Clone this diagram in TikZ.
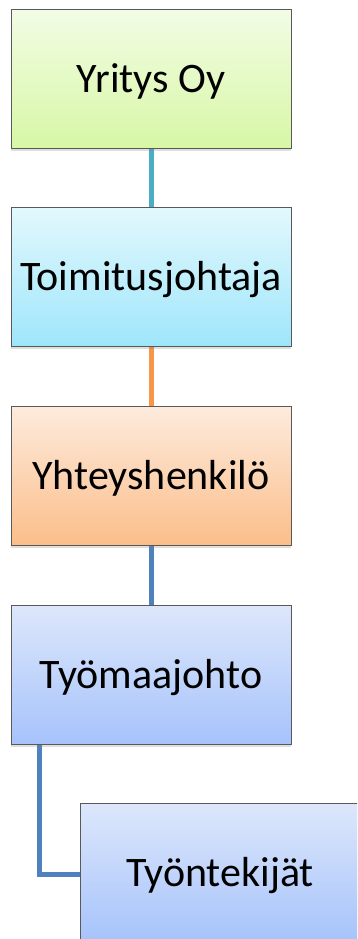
\documentclass[tikz,border=0pt]{standalone}
\usepackage{fontspec}
\setmainfont{Carlito}
\usetikzlibrary{shadows,backgrounds}
\definecolor{lnteal}{HTML}{4BACC6}
\definecolor{lnorange}{HTML}{F79646}
\definecolor{lnblue}{HTML}{4F81BD}
\tikzset{
  orgbox/.style={draw=black!65, line width=0.8pt, minimum width=280pt, minimum height=139pt,
    inner sep=0pt, font=\fontsize{42}{49}\selectfont, text=black, text height=27pt, text depth=0pt,
    drop shadow={opacity=0.25, shadow xshift=0pt, shadow yshift=-2.5pt}},
  greenbox/.style={orgbox, top color={rgb,255:red,242;green,252;blue,229}, bottom color={rgb,255:red,215;green,247;blue,165}},
  cyanbox/.style={orgbox, top color={rgb,255:red,227;green,248;blue,253}, bottom color={rgb,255:red,158;green,230;blue,251}},
  peachbox/.style={orgbox, top color={rgb,255:red,253;green,235;blue,221}, bottom color={rgb,255:red,251;green,190;blue,138}},
  bluebox/.style={orgbox, top color={rgb,255:red,221;green,231;blue,251}, bottom color={rgb,255:red,166;green,195;blue,251}},
  link/.style={line width=5pt}
}
\begin{document}
\begin{tikzpicture}[x=1pt,y=1pt]
\useasboundingbox (0,0) rectangle (357,-939);
\clip (0,0) rectangle (357,-939);
\node[greenbox] (a) at (151,-79) {Yritys Oy};
\node[cyanbox] (b) at (151,-277) {Toimitusjohtaja};
\node[peachbox] (c) at (151,-475.5) {Yhteyshenkilö};
\node[bluebox] (d) at (151,-674.5) {Työmaajohto};
\node[bluebox] (e) at (220,-872.5) {Työntekijät};
\coordinate (bend) at (39.5,-874);
\begin{scope}[on background layer]
\draw[link, lnteal] (a.south) -- (b.north);
\draw[link, lnorange] (b.south) -- (c.north);
\draw[link, lnblue] (d.north) -- (c.south);
\draw[link, lnblue] (bend |- d.south) -- (bend) -- (e.west |- bend);
\end{scope}
\end{tikzpicture}
\end{document}
